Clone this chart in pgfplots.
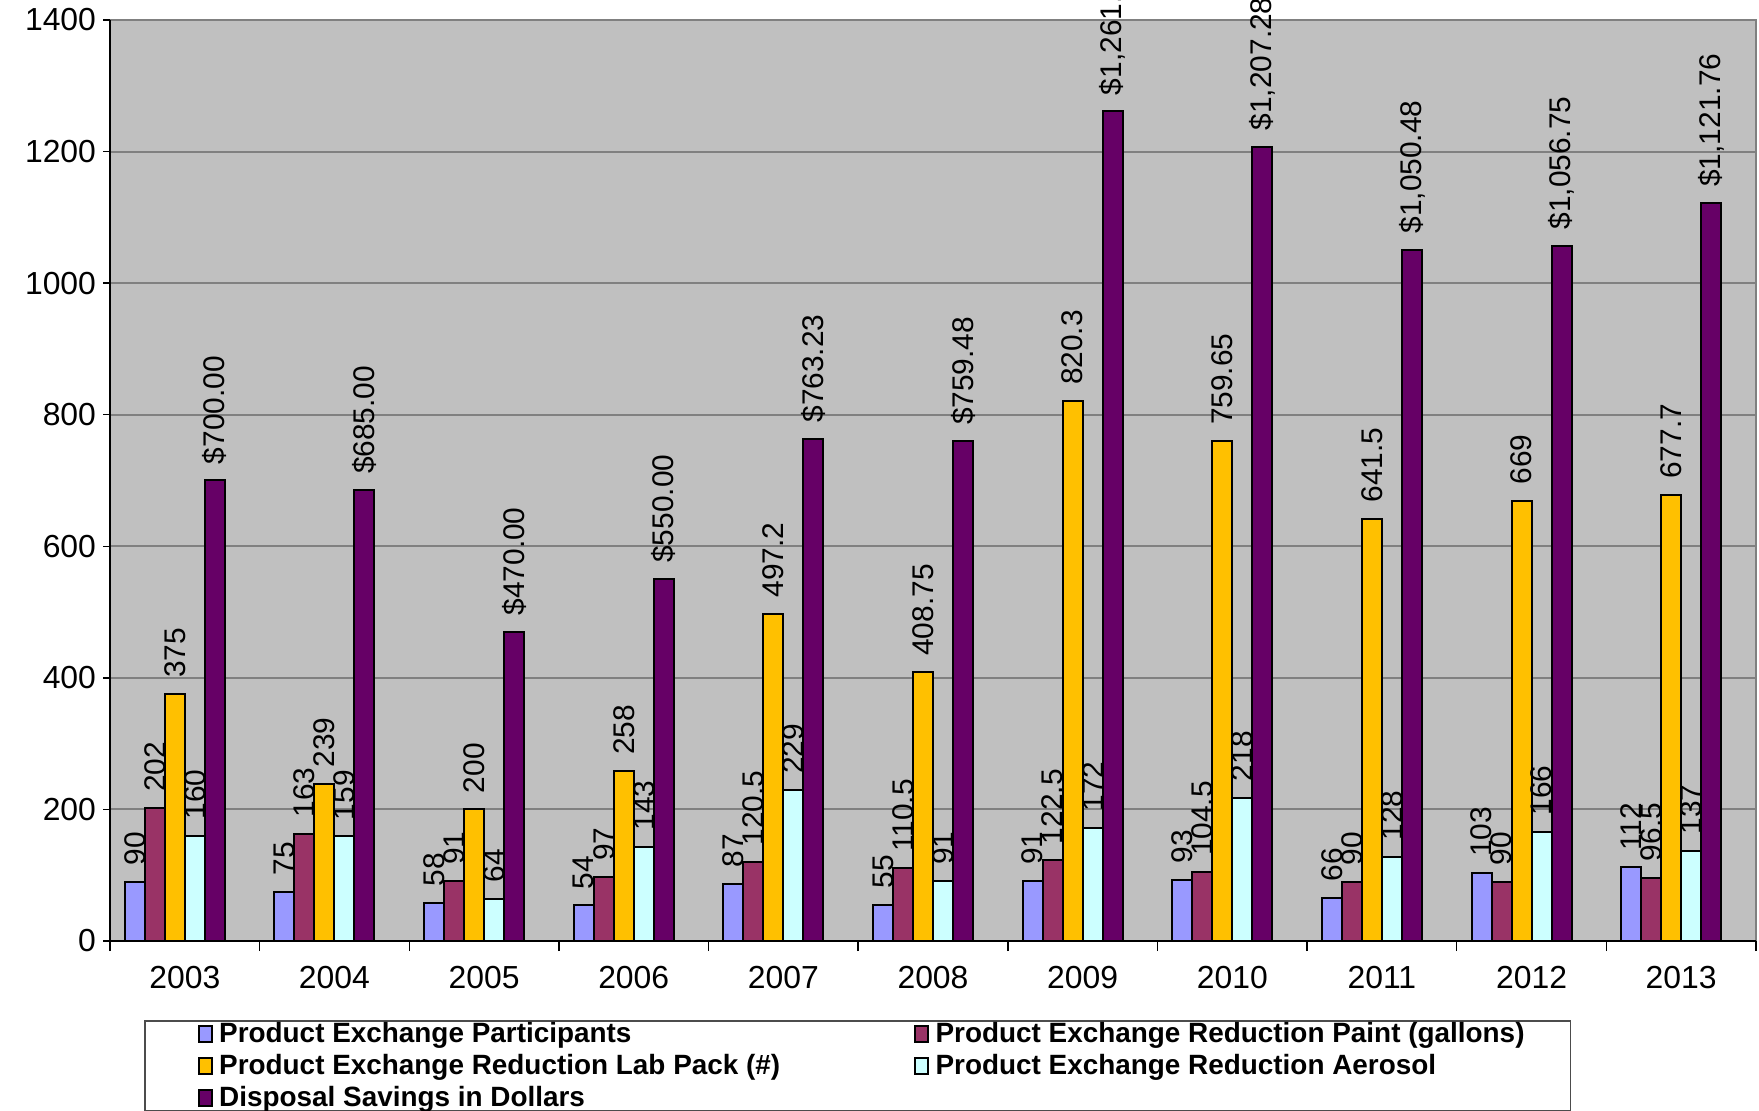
\documentclass[border=0pt]{standalone}
\usepackage{pgfplots}
\pgfplotsset{compat=1.18}
\usepackage{pgfplotstable}
\usepackage{fontspec}
\setmainfont{Liberation Sans}
\usetikzlibrary{calc}

\definecolor{cPart}{HTML}{9999FF}
\definecolor{cPaint}{HTML}{993366}
\definecolor{cLab}{HTML}{FFC000}
\definecolor{cAero}{HTML}{CCFFFF}
\definecolor{cDisp}{HTML}{660066}
\definecolor{bgGray}{HTML}{C0C0C0}
\definecolor{gridGray}{HTML}{808080}

% year index, then the five series
\pgfplotstableread{
x part paint lab aero disp
0 90 202 375 160 700.00
1 75 163 239 159 685.00
2 58 91 200 64 470.00
3 54 97 258 143 550.00
4 87 120.5 497.2 229 763.23
5 55 110.5 408.75 91 759.48
6 91 122.5 820.3 172 1261.00
7 93 104.5 759.65 218 1207.28
8 66 90 641.5 128 1050.48
9 103 90 669 166 1056.75
10 112 96.5 677.7 137 1121.76
}\datatable

\begin{document}
\begin{tikzpicture}
\begin{axis}[
    name=ax,
    scale only axis, width=823bp, height=460.5bp,
    xmin=-0.5, xmax=10.5, ymin=0, ymax=1400,
    ytick={0,200,...,1400},
    xtick={0,...,10},
    xticklabels={2003,2004,2005,2006,2007,2008,2009,2010,2011,2012,2013},
    minor xtick={-0.5,0.5,...,10.5},
    ybar, bar width=10bp,
    axis x line*=bottom, axis y line*=left,
    axis line style={black, line width=1bp},
    axis background/.style={fill=bgGray, draw=gridGray, line width=1bp},
    ymajorgrids, major grid style={gridGray, line width=1bp},
    tick align=outside,
    major x tick style={draw=none},
    minor x tick style={black, line width=0.75bp},
    minor tick length=5bp,
    major tick length=3.5bp,
    y tick style={black, line width=0.75bp},
    /pgf/number format/assume math mode=true,
    ticklabel style={font=\fontsize{16}{19}\selectfont},
    xticklabel style={yshift=-5.5bp},
    yticklabel style={/pgf/number format/1000 sep={}},
    nodes near coords style={rotate=90, anchor=west, text=black,
        font=\fontsize{15}{18}\selectfont, inner xsep=8bp, inner ysep=0bp},
    legend columns=2,
    legend cell align=left,
    legend image code/.code={\draw[#1, line width=1bp] (0bp,-4bp) rectangle (6.5bp,4bp);},
    legend style={at={(axis description cs:0.02066,-0.0862)}, anchor=north west,
        draw=black!70, line width=0.75bp, inner xsep=26.5bp, inner ysep=-1.5bp,
        font=\bfseries\fontsize{14}{16.5}\selectfont,
        /tikz/column sep=0pt,
        /tikz/every odd column/.append style={column sep=1.2bp},
        nodes={inner xsep=2bp, inner ysep=2.2bp}},
]
\addplot[fill=cPart, draw=black, line width=1bp, bar shift=-25bp] table[x=x, y=part]{\datatable};
\addlegendentry{\makebox[345.5bp][l]{Product Exchange Participants}}
\addplot[fill=cPaint, draw=black, line width=1bp, bar shift=-15bp] table[x=x, y=paint]{\datatable};
\addlegendentry{\makebox[289bp][l]{Product Exchange Reduction Paint (gallons)}}
\addplot[fill=cLab, draw=black, line width=1bp, bar shift=-5bp] table[x=x, y=lab]{\datatable};
\addlegendentry{\makebox[345.5bp][l]{Product Exchange Reduction Lab Pack (\#)}}
\addplot[fill=cAero, draw=black, line width=1bp, bar shift=5bp] table[x=x, y=aero]{\datatable};
\addlegendentry{\makebox[289bp][l]{Product Exchange Reduction Aerosol}}
\addplot[fill=cDisp, draw=black, line width=1bp, bar shift=15bp] table[x=x, y=disp]{\datatable};
\addlegendentry{\makebox[345.5bp][l]{Disposal Savings in Dollars}}

% value labels, drawn after all bars so no bar hides them
\addplot[draw=none, fill=none, bar shift=-25bp, nodes near coords, forget plot] table[x=x, y=part]{\datatable};
\addplot[draw=none, fill=none, bar shift=-15bp, nodes near coords, forget plot] table[x=x, y=paint]{\datatable};
\addplot[draw=none, fill=none, bar shift=-5bp, nodes near coords, forget plot] table[x=x, y=lab]{\datatable};
\addplot[draw=none, fill=none, bar shift=5bp, nodes near coords, forget plot] table[x=x, y=aero]{\datatable};
\addplot[draw=none, fill=none, bar shift=15bp, forget plot,
    nodes near coords={\$\pgfmathprintnumber[fixed,fixed zerofill,precision=2,1000 sep={,}]{\pgfplotspointmeta}}]
    table[x=x, y=disp]{\datatable};
\end{axis}
\pgfresetboundingbox
\path[use as bounding box] ($(ax.south west)+(-55bp,-85bp)$) rectangle ($(ax.north east)+(1.5bp,10bp)$);
\end{tikzpicture}
\end{document}
